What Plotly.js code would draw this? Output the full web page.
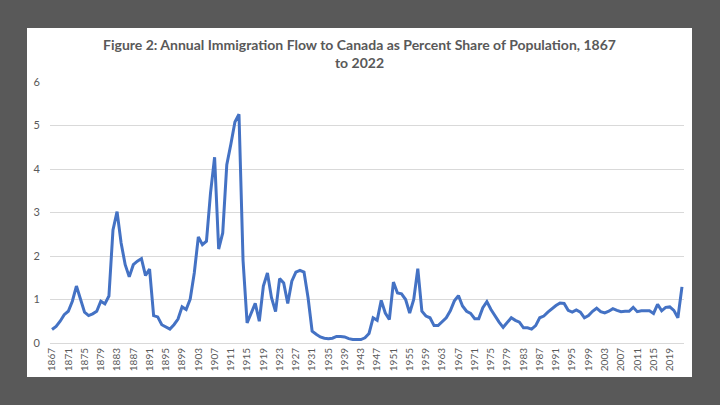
<!DOCTYPE html>
<html>
<head>
<meta charset="utf-8">
<script src="https://cdn.plot.ly/plotly-3.0.1.min.js"></script>
<style>
  html, body { margin: 0; padding: 0; width: 720px; height: 405px; background: #595959; overflow: hidden; }
  #chart { position: absolute; left: 27px; top: 28px; width: 665px; height: 349px; background: #ffffff; }
</style>
</head>
<body>
<div id="chart"></div>
<script>
const years = [
  1867,1868,1869,1870,1871,1872,1873,1874,1875,1876,1877,1878,1879,1880,1881,1882,1883,1884,1885,1886,
  1887,1888,1889,1890,1891,1892,1893,1894,1895,1896,1897,1898,1899,1900,1901,1902,1903,1904,1905,1906,
  1907,1908,1909,1910,1911,1912,1913,1914,1915,1916,1917,1918,1919,1920,1921,1922,1923,1924,1925,1926,
  1927,1928,1929,1930,1931,1932,1933,1934,1935,1936,1937,1938,1939,1940,1941,1942,1943,1944,1945,1946,
  1947,1948,1949,1950,1951,1952,1953,1954,1955,1956,1957,1958,1959,1960,1961,1962,1963,1964,1965,1966,
  1967,1968,1969,1970,1971,1972,1973,1974,1975,1976,1977,1978,1979,1980,1981,1982,1983,1984,1985,1986,
  1987,1988,1989,1990,1991,1992,1993,1994,1995,1996,1997,1998,1999,2000,2001,2002,2003,2004,2005,2006,
  2007,2008,2009,2010,2011,2012,2013,2014,2015,2016,2017,2018,2019,2020,2021,2022
];

const immigrationShare = [
  0.31,0.38,0.50,0.65,0.73,0.96,1.31,1.00,0.71,0.63,0.67,0.73,0.96,0.90,1.08,2.60,3.02,2.30,1.80,1.52,
  1.80,1.88,1.94,1.55,1.70,0.63,0.60,0.42,0.37,0.32,0.42,0.55,0.83,0.77,1.01,1.61,2.44,2.26,2.34,3.45,
  4.27,2.16,2.53,4.10,4.57,5.08,5.26,1.90,0.46,0.69,0.91,0.50,1.31,1.61,1.04,0.72,1.48,1.38,0.91,1.42,
  1.63,1.67,1.63,1.04,0.27,0.20,0.14,0.11,0.10,0.11,0.15,0.15,0.14,0.10,0.08,0.08,0.08,0.12,0.22,0.58,
  0.52,0.98,0.69,0.54,1.40,1.15,1.13,1.00,0.69,1.00,1.71,0.73,0.62,0.58,0.40,0.40,0.48,0.58,0.74,0.97,
  1.09,0.85,0.73,0.68,0.56,0.56,0.81,0.95,0.77,0.62,0.48,0.36,0.48,0.58,0.52,0.48,0.35,0.35,0.32,0.40,
  0.58,0.62,0.71,0.79,0.86,0.92,0.91,0.75,0.71,0.76,0.71,0.58,0.63,0.73,0.80,0.72,0.69,0.73,0.79,0.75,
  0.72,0.73,0.73,0.82,0.72,0.74,0.74,0.74,0.68,0.89,0.74,0.82,0.83,0.75,0.58,1.29
];

const xTickYears = [
  1867,1871,1875,1879,1883,1887,1891,1895,1899,1903,1907,1911,1915,1919,1923,1927,1931,1935,1939,1943,
  1947,1951,1955,1959,1963,1967,1971,1975,1979,1983,1987,1991,1995,1999,2003,2007,2011,2015,2019
];
const yTickValues = [0, 1, 2, 3, 4, 5, 6];

const titleText = 'Figure 2: Annual Immigration Flow to Canada as Percent Share of Population, 1867<br>to 2022';

const trace = {
  x: years,
  y: immigrationShare,
  type: 'scatter',
  mode: 'lines',
  line: { color: '#4472C4', width: 3 },
  hoverinfo: 'x+y'
};

const layout = {
  width: 665,
  height: 349,
  paper_bgcolor: '#ffffff',
  plot_bgcolor: '#ffffff',
  margin: { l: 23, r: 8, t: 54, b: 34 },
  showlegend: false,
  font: { family: 'Lato, "Open Sans", sans-serif', color: '#595959' },
  title: {
    text: titleText,
    font: { family: 'Lato, "Open Sans", sans-serif', size: 14, color: '#595959', weight: 'bold' },
    x: 0.5,
    xanchor: 'center',
    xref: 'container',
    y: 0.937,
    yanchor: 'top',
    yref: 'container'
  },
  xaxis: {
    range: [1866.5, 2022.5],
    tickmode: 'array',
    tickvals: xTickYears,
    ticktext: xTickYears.map(String),
    tickangle: -90,
    tickfont: { size: 10, color: '#595959' },
    showgrid: false,
    zeroline: false,
    showline: true,
    linecolor: '#d9d9d9',
    linewidth: 1,
    ticks: '',
    fixedrange: true
  },
  yaxis: {
    range: [0, 6],
    tickmode: 'array',
    tickvals: yTickValues,
    ticktext: yTickValues.map(String),
    tickfont: { size: 11, color: '#595959' },
    showgrid: true,
    gridcolor: '#d9d9d9',
    gridwidth: 1,
    zeroline: false,
    showline: false,
    ticks: '',
    ticklabelstandoff: 9,
    fixedrange: true
  }
};

Plotly.newPlot('chart', [trace], layout, { displayModeBar: false, staticPlot: true });
</script>
</body>
</html>
